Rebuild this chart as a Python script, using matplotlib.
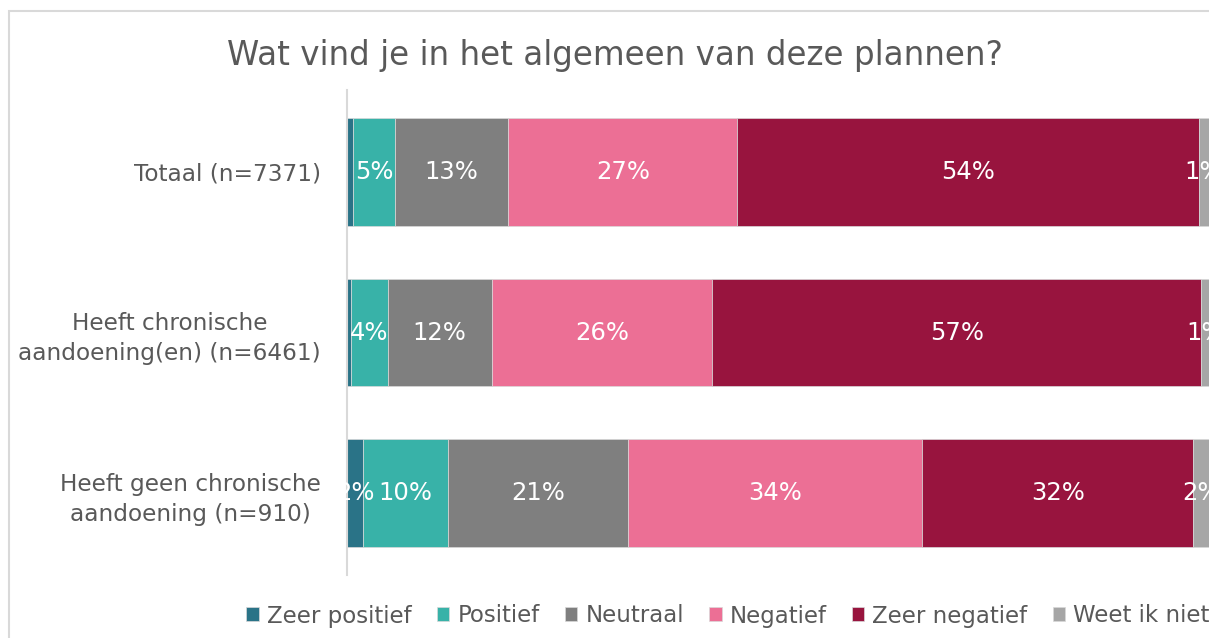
import matplotlib
matplotlib.use("Agg")
import matplotlib.pyplot as plt
from matplotlib.patches import Rectangle

plt.rcParams['font.family'] = ['DejaVu Sans']

title = "Wat vind je in het algemeen van deze plannen?"
categories = ["Totaal (n=7371)",
              "Heeft chronische\naandoening(en) (n=6461)",
              "Heeft geen chronische\naandoening (n=910)"]
series_names = ["Zeer positief", "Positief", "Neutraal", "Negatief", "Zeer negatief", "Weet ik niet"]
zeer_positief = [0.7, 0.5, 1.9]
positief = [4.9, 4.2, 9.8]
neutraal = [13.1, 12.1, 20.9]
negatief = [26.6, 25.6, 34.1]
zeer_negatief = [53.5, 56.7, 31.5]
weet_ik_niet = [1.2, 1.0, 1.9]
label_texts = [["", "", "2%"],
               ["5%", "4%", "10%"],
               ["13%", "12%", "21%"],
               ["27%", "26%", "34%"],
               ["54%", "57%", "32%"],
               ["1%", "1%", "2%"]]
colors = ["#2A7387", "#38B2A8", "#7F7F7F", "#EC6F95", "#98143E", "#A6A6A6"]

series = [zeer_positief, positief, neutraal, negatief, zeer_negatief, weet_ik_niet]

fig = plt.figure(figsize=(12.09, 6.38), dpi=100)
ax = fig.add_axes([347/1209, 1-575/638, 862/1209, 485/638])

ypos = list(range(len(categories)))
left = [0.0]*len(categories)
handles = []
for name, vals, col, labs in zip(series_names, series, colors, label_texts):
    bars = ax.barh(ypos, vals, left=left, height=0.67, color=col,
                   edgecolor="#D9D9D9", linewidth=0.5, label=name)
    handles.append(bars)
    for i, (v, l, t) in enumerate(zip(vals, left, labs)):
        if t:
            ax.text(l + v/2, i, t, ha='center', va='center', color='white',
                    fontsize=17.5, clip_on=False)
    left = [a + b for a, b in zip(left, vals)]

ax.set_xlim(0, 100)
ax.set_ylim(2.51, -0.51)
ax.set_yticks(ypos)
ax.set_yticklabels(categories, fontsize=16.7, color="#595959", multialignment='center',
                   linespacing=1.4)
ax.tick_params(axis='y', length=0, pad=19)
ax.set_xticks([])
for s in ['top', 'right', 'bottom']:
    ax.spines[s].set_visible(False)
ax.spines['left'].set_color("#D9D9D9")
ax.spines['left'].set_linewidth(1.5)

fig.text(615/1209, 1-55/638, title, ha='center', va='center', fontsize=23.5, color="#595959")

fig.legend(handles=handles, labels=series_names, loc='center', bbox_to_anchor=(728/1209, 1-616/638),
           ncol=6, frameon=False, fontsize=16.5, labelcolor="#595959",
           handlelength=0.55, handleheight=0.55, handletextpad=0.35, columnspacing=1.1)

fig.patches.append(Rectangle((9/1209, -0.1), 1.2, 1-11/638+0.1, transform=fig.transFigure,
                             fill=False, edgecolor="#D9D9D9", linewidth=1.5))

fig.savefig("out.png", dpi=100)
